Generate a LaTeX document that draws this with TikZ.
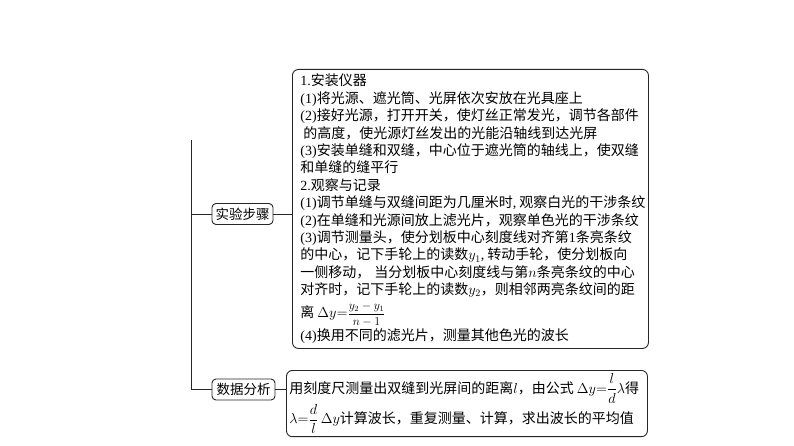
\documentclass[tikz,border=0pt]{standalone}
\usepackage{amsmath}
\usepackage{fontspec}
\setmainfont{Liberation Serif}
\newfontfamily\cjk{Noto Sans CJK SC}
\newcommand{\latn}[1]{{\rmfamily #1}}
\newcommand{\smallfr}[2]{{\fontsize{12}{12}\selectfont$\dfrac{#1}{#2}$}}
\begin{document}
\begin{tikzpicture}[x=1pt,y=-1pt,
  conn/.style={draw=black!85, line width=0.9pt},
  lab/.style={draw=black!85, line width=0.9pt, rounded corners=4pt, inner sep=0pt,
    minimum width=61pt, minimum height=21pt, font=\fontsize{13.5}{15}\cjk},
  card/.style={draw=black!85, line width=0.9pt, rounded corners=6pt, align=left,
    inner ysep=3pt, anchor=north west}]
\useasboundingbox (0,0) rectangle (794,446);

\node[lab] (n1) at (242.5,214) {实验步骤};
\node[lab, minimum width=63pt] (n2) at (243.5,389.5) {数据分析};

\node[card, text width=340pt, inner xsep=8pt, minimum height=279pt,
  font=\fontsize{14}{17.4}\cjk] (b1) at (292,69) {%
\latn{1.}安装仪器\\
\latn{(1)}将光源、遮光筒、光屏依次安放在光具座上\\
\latn{(2)}接好光源，打开开关，使灯丝正常发光，调节各部件\\
\hspace*{3pt}的高度，使光源灯丝发出的光能沿轴线到达光屏\\
\latn{(3)}安装单缝和双缝，中心位于遮光筒的轴线上，使双缝\\
和单缝的缝平行\\
\latn{2.}观察与记录\\
\latn{(1)}调节单缝与双缝间距为几厘米时\latn{,\nobreak\hspace{3pt}}观察白光的干涉条纹\\
\latn{(2)}在单缝和光源间放上滤光片，观察单色光的干涉条纹\\
\latn{(3)}调节测量头，使分划板中心刻度线对齐第\latn{1}条亮条纹\\
的中心，记下手轮上的读数$y_1$\latn{,\nobreak\hspace{3pt}}转动手轮，使分划板向\\
一侧移动，\hspace*{4pt}当分划板中心刻度线与第$n$条亮条纹的中心\\
对齐时，记下手轮上的读数$y_2$，则相邻两亮条纹间的距\\[4pt]
离\hspace*{3pt}$\Delta y{=}$\smallfr{y_2-y_1}{n-1}\\[1pt]
\latn{(4)}换用不同的滤光片，测量其他色光的波长};

\node[card, text width=355pt, inner xsep=3pt, minimum height=58pt,
  font=\fontsize{14}{26}\cjk] (b2) at (286,370) {%
用刻度尺测量出双缝到光屏间的距离$l$，由公式\hspace*{3pt}$\Delta y{=}\dfrac{l}{d}\lambda$得\\
$\lambda{=}\dfrac{d}{l}\,\Delta y$计算波长，重复测量、计算，求出波长的平均值};

\coordinate (top) at (191,140);
\coordinate (bot) at (191,389.5);
\draw[conn] (top) -- (bot) -- (n2.west);
\draw[conn] (top |- n1.west) -- (n1.west);
\draw[conn] (n1.east) -- (b1.west |- n1.east);
\draw[conn] (n2.east) -- (b2.west |- n2.east);
\end{tikzpicture}
\end{document}
